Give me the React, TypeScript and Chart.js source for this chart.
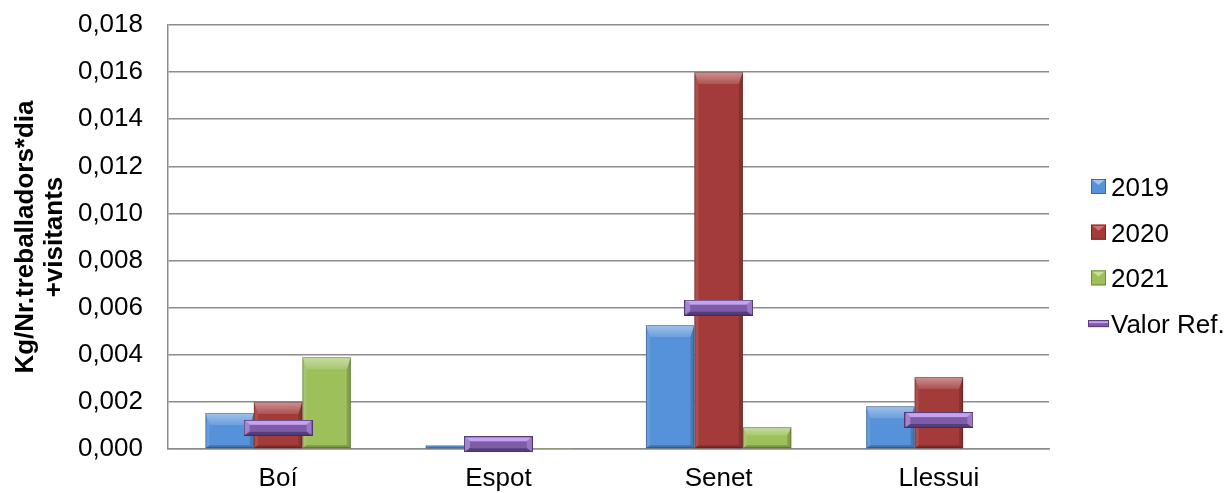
import React, { useEffect, useRef } from 'react';
import { Chart, registerables } from 'chart.js';

Chart.register(...registerables);

const categories = ['Boí', 'Espot', 'Senet', 'Llessui'];
const series2019 = [0.00153, 0.00015, 0.00526, 0.00182];
const series2020 = [0.002, 0.0002, 0.016, 0.00306];
const series2021 = [0.0039, 0.00002, 0.00093, 0];
const valorRef = [0.0009, 0.0002, 0.006, 0.00123];
const yTickValues = [0, 0.002, 0.004, 0.006, 0.008, 0.01, 0.012, 0.014, 0.016, 0.018];
const seriesLabels = ['2019', '2020', '2021', 'Valor Ref.'];
const axisTitle = ['Kg/Nr.treballadors*dia', '+visitants'];

const FONT = '"Liberation Sans", Arial, Helvetica, sans-serif';

const PALETTE = [
  { face: '#5592D9', light: '#9CC3F2', dark: '#3A6AA6' },
  { face: '#A33B3A', light: '#D27370', dark: '#742725' },
  { face: '#9DC05B', light: '#C8E195', dark: '#6F8A3A' },
  { face: '#7E5CA8', light: '#C6A3F0', dark: '#553D78' },
];

type Pt = [number, number];
function poly(ctx: CanvasRenderingContext2D, pts: Pt[], fill: string | CanvasGradient) {
  ctx.beginPath();
  ctx.moveTo(pts[0][0], pts[0][1]);
  for (let i = 1; i < pts.length; i++) ctx.lineTo(pts[i][0], pts[i][1]);
  ctx.closePath();
  ctx.fillStyle = fill;
  ctx.fill();
}

function makeRefMarker(): HTMLCanvasElement {
  const W = 69;
  const H = 16;
  const c = document.createElement('canvas');
  c.width = W;
  c.height = H;
  const g = c.getContext('2d')!;
  const p = PALETTE[3];
  g.fillStyle = p.face;
  g.fillRect(0, 0, W, H);
  poly(g, [[0, 0], [W, 0], [W - 6, 5], [6, 5]], p.light);
  poly(g, [[W, 0], [W, H], [W - 6, H - 4], [W - 6, 5]], '#9A79C6');
  poly(g, [[0, 0], [6, 5], [6, H - 4], [0, H]], '#A384CE');
  poly(g, [[0, H], [W, H], [W - 6, H - 4], [6, H - 4]], p.dark);
  g.strokeStyle = 'rgba(60,40,90,0.8)';
  g.lineWidth = 1;
  g.strokeRect(0.5, 0.5, W - 1, H - 1);
  return c;
}

const bevelPlugin = {
  id: 'bevelBars',
  afterDatasetDraw(chart: any, args: any) {
    const meta = args.meta;
    if (meta.type !== 'bar') return;
    const ctx: CanvasRenderingContext2D = chart.ctx;
    ctx.save();
    meta.data.forEach((el: any) => {
      const { x, y, base, width } = el.getProps(['x', 'y', 'base', 'width'], true);
      const l = x - width / 2;
      const r = x + width / 2;
      const t = Math.min(y, base);
      const b = Math.max(y, base);
      const h = b - t;
      if (h < 1) return;
      const td = Math.min(12, h * 0.4);
      const sd = Math.min(4, width / 4);
      const bd = Math.min(3, h * 0.2);
      const grad = ctx.createLinearGradient(0, t, 0, t + td);
      grad.addColorStop(0, 'rgba(255,255,255,0.45)');
      grad.addColorStop(1, 'rgba(255,255,255,0.12)');
      poly(ctx, [[l, t], [r, t], [r - sd, t + td], [l + sd, t + td]], grad);
      poly(ctx, [[l, t], [l + sd, t + td], [l + sd, b - bd], [l, b]], 'rgba(255,255,255,0.10)');
      poly(ctx, [[r, t], [r - sd, t + td], [r - sd, b - bd], [r, b]], 'rgba(0,0,0,0.16)');
      poly(ctx, [[l, b], [r, b], [r - sd, b - bd], [l + sd, b - bd]], 'rgba(0,0,0,0.22)');
      ctx.strokeStyle = 'rgba(0,0,0,0.25)';
      ctx.lineWidth = 1;
      ctx.strokeRect(l + 0.5, t + 0.5, width - 1, h - 1);
    });
    ctx.restore();
  },
};

const legendPlugin = {
  id: 'customLegend',
  afterDraw(chart: any) {
    const ctx: CanvasRenderingContext2D = chart.ctx;
    ctx.save();
    const datasets = chart.data.datasets;
    datasets.forEach((ds: any, i: number) => {
      const cy = 186.5 + i * 45.7;
      const p = PALETTE[i];
      if (ds.type === 'line') {
        const l = 1088, t = cy - 3.5, w = 21, h = 7;
        ctx.fillStyle = p.face;
        ctx.fillRect(l, t, w, h);
        ctx.fillStyle = p.light;
        ctx.fillRect(l + 1, t + 1, w - 2, 2);
        ctx.strokeStyle = p.dark;
        ctx.lineWidth = 1;
        ctx.strokeRect(l + 0.5, t + 0.5, w - 1, h - 1);
      } else {
        const l = 1091, t = cy - 7.5, s = 15;
        ctx.fillStyle = p.face;
        ctx.fillRect(l, t, s, s);
        poly(ctx, [[l, t], [l + s, t], [l + s / 2, t + 6]], p.light);
        ctx.strokeStyle = p.dark;
        ctx.lineWidth = 1;
        ctx.strokeRect(l + 0.5, t + 0.5, s - 1, s - 1);
      }
      ctx.fillStyle = '#000';
      ctx.font = `26px ${FONT}`;
      ctx.textAlign = 'left';
      ctx.textBaseline = 'alphabetic';
      ctx.fillText(ds.label, 1111, cy + 9.3);
    });
    ctx.restore();
  },
};

export default function App() {
  const canvasRef = useRef<HTMLCanvasElement>(null);

  useEffect(() => {
    const marker = makeRefMarker();
    const gridColor = '#8c8c8c';
    const chart = new Chart(canvasRef.current!, {
      type: 'bar',
      data: {
        labels: categories,
        datasets: [
          {
            type: 'bar',
            label: seriesLabels[0],
            data: series2019,
            backgroundColor: PALETTE[0].face,
            order: 1,
            barPercentage: 1,
            categoryPercentage: 0.66,
          },
          {
            type: 'bar',
            label: seriesLabels[1],
            data: series2020,
            backgroundColor: PALETTE[1].face,
            order: 1,
            barPercentage: 1,
            categoryPercentage: 0.66,
          },
          {
            type: 'bar',
            label: seriesLabels[2],
            data: series2021,
            backgroundColor: PALETTE[2].face,
            order: 1,
            barPercentage: 1,
            categoryPercentage: 0.66,
          },
          {
            type: 'line',
            label: seriesLabels[3],
            data: valorRef,
            showLine: false,
            pointStyle: marker as any,
            pointRadius: 10,
            borderColor: PALETTE[3].face,
            backgroundColor: PALETTE[3].face,
            order: 0,
            clip: false as any,
          } as any,
        ],
      },
      options: {
        animation: false,
        responsive: false,
        events: [],
        layout: { padding: { top: 25, right: 181, bottom: 0, left: 0 } },
        plugins: {
          legend: { display: false },
          tooltip: { enabled: false },
          title: { display: false },
        },
        scales: {
          x: {
            grid: { display: false, drawTicks: false },
            border: { display: true, color: gridColor, width: 1.5 },
            ticks: {
              color: '#000',
              font: { family: FONT, size: 26 },
              padding: 14,
              maxRotation: 0,
            },
            afterFit: (scale: any) => {
              scale.height = 44;
            },
          },
          y: {
            min: 0,
            max: 0.018,
            afterBuildTicks: (scale: any) => {
              scale.ticks = yTickValues.map((v) => ({ value: v }));
            },
            grid: { color: gridColor, lineWidth: 1.5, drawTicks: false },
            border: { display: true, color: gridColor, width: 1.5 },
            ticks: {
              color: '#000',
              font: { family: FONT, size: 26 },
              padding: 25,
              callback: (v: any) => Number(v).toFixed(3).replace('.', ','),
            },
            title: {
              display: true,
              text: axisTitle,
              color: '#000',
              font: { family: FONT, size: 26, weight: 'bold', lineHeight: 1.12 },
              padding: { top: 11, bottom: 0 },
            },
            afterFit: (scale: any) => {
              scale.width = 168;
              scale.paddingTop = 0;
              scale.paddingBottom = 0;
            },
          },
        },
      },
      plugins: [bevelPlugin, legendPlugin],
    });
    return () => chart.destroy();
  }, []);

  return (
    <div style={{ position: 'absolute', left: 0, top: 0, width: 1230, height: 493, background: '#fff' }}>
      <canvas ref={canvasRef} width={1230} height={493} style={{ display: 'block' }} />
    </div>
  );
}
